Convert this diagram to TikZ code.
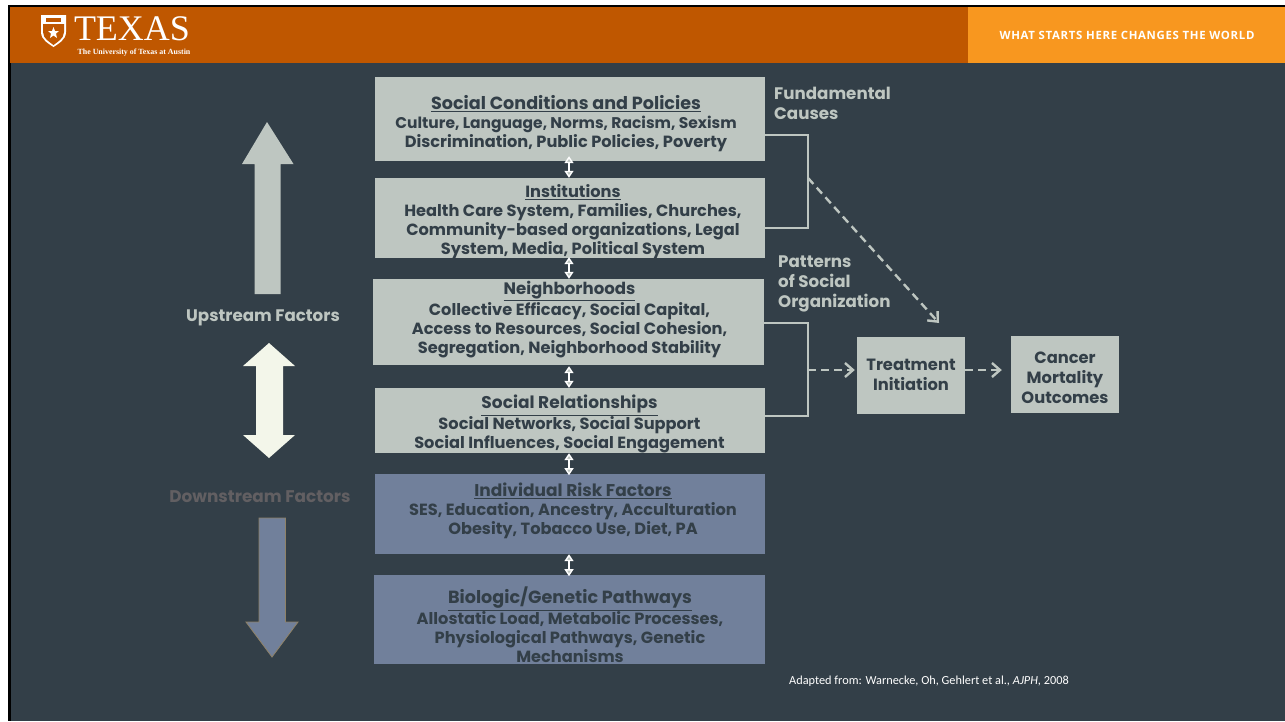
\documentclass[tikz,border=0pt]{standalone}
\usepackage{fontspec}
\setmainfont{Poppins}
\newfontfamily\headserif{Liberation Serif}
\newfontfamily\headsans{Open Sans}
\newfontfamily\notefont{Carlito}
\usetikzlibrary{arrows.meta}
\definecolor{slate}{HTML}{333F48}
\definecolor{burnt}{HTML}{BF5700}
\definecolor{gold}{HTML}{F8971F}
\definecolor{sage}{HTML}{BEC6C1}
\definecolor{steel}{HTML}{71809B}
\definecolor{cream}{HTML}{F3F6EA}
\definecolor{dimtext}{HTML}{625F62}
\definecolor{tan}{HTML}{8F8268}
\newcommand{\heading}[2][17]{{\fontsize{#1}{19}\selectfont\underline{#2}}}
\tikzset{
  box/.style={fill=sage, minimum width=390pt, inner sep=0pt},
  lowbox/.style={box, fill=steel},
  sidebox/.style={fill=sage, minimum width=108pt, minimum height=77pt, inner sep=0pt},
  boxtext/.style={text=slate, align=center, inner sep=0pt, font=\fontsize{16.2}{19}\selectfont\bfseries},
  outtext/.style={text=slate, align=center, inner sep=0pt, font=\fontsize{16.3}{20}\selectfont\bfseries},
  sidetext/.style={text=sage, align=left, inner sep=0pt, font=\fontsize{16.7}{20}\selectfont\bfseries},
  link/.style={white, line width=1.4pt, {Triangle[width=9pt,length=7pt,fill=sage]}-{Triangle[width=9pt,length=7pt,fill=sage]}},
  bracket/.style={sage, line width=2pt},
  flow/.style={sage, line width=2.4pt, dash pattern=on 8pt off 5pt, -{Straight Barb[length=8pt,width=14pt]}}
}
\begin{document}
\begin{tikzpicture}[x=1pt,y=-1pt]
\useasboundingbox (0,0) rectangle (1285,721);
\fill[white] (0,0) rectangle (1285,721);
\fill[black] (8,5) rectangle (1285,721);
\fill[slate] (11,63) rectangle (1285,721);
\fill[burnt] (10,7) rectangle (968,63);
\fill[gold] (968,7) rectangle (1285,63);

% header
\fill[white] (41,15) -- (66,15) -- (66,32) .. controls (66,40) and (58,44) .. (53.5,47) .. controls (49,44) and (41,40) .. (41,32) -- cycle;
\fill[burnt] (43,24) -- (64,24) -- (64,32) .. controls (64,39) and (57,42) .. (53.5,45) .. controls (50,42) and (43,39) .. (43,32) -- cycle;
\fill[burnt] (46,17.5) rectangle (61,22);
\fill[white] (53.5,27) -- (55,31) -- (59,31) -- (56,33.5) -- (57,38) -- (53.5,35.5) -- (50,38) -- (51,33.5) -- (48,31) -- (52,31) -- cycle;
\node[text=white, inner sep=0pt, font=\fontsize{36}{36}\selectfont\headserif] (logo) at (132,29) {TEXAS};
\node[text=white, inner sep=0pt, font=\fontsize{7.9}{9}\selectfont\headserif\bfseries] (ut) at (134,53) {The University of Texas at Austin};
\node[text=white, inner sep=0pt, font=\fontsize{11.4}{12}\selectfont\headsans\bfseries] (motto) at (1127,35) {\addfontfeature{LetterSpace=6}WHAT STARTS HERE CHANGES THE WORLD};

% stacked factors
\node[box, minimum height=84pt] (policies) at (570,119) {};
\node[box, minimum height=80pt] (institutions) at (570,218) {};
\node[box, minimum width=391pt, minimum height=86pt] (neighborhoods) at (568.5,322) {};
\node[box, minimum height=65pt] (relationships) at (570,420.5) {};
\node[lowbox, minimum height=80pt] (risk) at (570,514) {};
\node[lowbox, minimum width=391pt, minimum height=89pt] (biologic) at (569.5,619.5) {};

\node[boxtext] (policiestext) at (566,123.5) {\heading[17.6]{Social Conditions and Policies}\\{\fontsize{15.5}{19}\selectfont Culture, Language, Norms, Racism, Sexism}\\Discrimination, Public Policies, Poverty};
\node[boxtext] (institutionstext) at (573,221.5) {\heading[16.2]{Institutions}\\Health Care System, Families, Churches,\\Community-based organizations, Legal\\System, Media, Political System};
\node[boxtext] (neighborhoodstext) at (569.5,319.5) {\heading[16.6]{Neighborhoods}\\Collective Efficacy, Social Capital,\\Access to Resources, Social Cohesion,\\Segregation, Neighborhood Stability};
\node[boxtext] (relationshipstext) at (569.5,424) {\heading{Social Relationships}\\Social Networks, Social Support\\Social Influences, Social Engagement};
\node[boxtext] (risktext) at (573,511) {\heading{Individual Risk Factors}\\SES, Education, Ancestry, Acculturation\\Obesity, Tobacco Use, Diet, PA};
\node[boxtext] (biologictext) at (570,625) {\heading[17.6]{Biologic/Genetic Pathways}\\Allostatic Load, Metabolic Processes,\\Physiological Pathways, Genetic\\Mechanisms};

\coordinate (spine) at (569,0);
\draw[link] (policies.south -| spine) ++(0,-5) -- (institutions.north -| spine);
\draw[link] (institutions.south -| spine) ++(0,-1) -- (neighborhoods.north -| spine);
\draw[link] (neighborhoods.south -| spine) ++(0,1) -- (relationships.north -| spine);
\draw[link] (relationships.south -| spine) -- ++(0,22);
\draw[link] (risk.south -| spine) -- ++(0,22);

% outcomes
\node[sidebox] (treatment) at (911,375.5) {};
\node[sidebox] (cancer) at (1065,374.5) {};
\node[outtext] (treatmenttext) at (911,374.5) {Treatment\\Initiation};
\node[outtext] (cancertext) at (1065,378) {Cancer\\Mortality\\Outcomes};

\node[sidetext, anchor=north west] (fundamental) at (774,87) {Fundamental\\Causes};
\node[sidetext, anchor=north west] (patterns) at (778,256) {Patterns\\of Social\\Organization};

\coordinate (fundtop) at (808,135);
\coordinate (fundlow) at (808,228);
\coordinate (fundmid) at (808,178);
\coordinate (fundend) at (939,323);
\coordinate (pattop) at (808,323);
\coordinate (patlow) at (808,416);
\coordinate (patmid) at (808,370);
\draw[bracket] (policies.east |- fundtop) -- (fundtop) -- (fundlow) -- (institutions.east |- fundlow);
\draw[bracket] (neighborhoods.east |- pattop) -- (pattop) -- (patlow) -- (relationships.east |- patlow);
\draw[flow] (fundmid) -- (fundend);
\draw[flow] (patmid) -- ([xshift=-2pt]treatment.west |- patmid);
\draw[flow] (treatment.east |- patmid) -- ([xshift=-9pt]cancer.west |- patmid);

% side arrows
\fill[sage] (267,122) -- (293.5,164) -- (280.5,164) -- (280.5,294) -- (254.5,294) -- (254.5,164) -- (242,164) -- cycle;
\fill[cream] (269,343) -- (295,366) -- (283,366) -- (283,435) -- (295,435) -- (269,458) -- (243,435) -- (256,435) -- (256,366) -- (243,366) -- cycle;
\draw[tan, fill=steel, line width=0.8pt] (259,518) -- (285.5,518) -- (285.5,622) -- (298,622) -- (272,657) -- (246,622) -- (259,622) -- cycle;
\node[text=sage, inner sep=0pt, font=\fontsize{16.7}{19}\selectfont\bfseries] (upstream) at (263,318) {Upstream Factors};
\node[text=dimtext, inner sep=0pt, font=\fontsize{16.9}{19}\selectfont\bfseries] (downstream) at (260,496.5) {Downstream Factors};

\node[text=white, inner sep=0pt, anchor=west, font=\fontsize{12.3}{14}\selectfont\notefont] (source) at (789,681) {Adapted from: Warnecke, Oh, Gehlert et al., \textit{AJPH}, 2008};
\end{tikzpicture}
\end{document}
